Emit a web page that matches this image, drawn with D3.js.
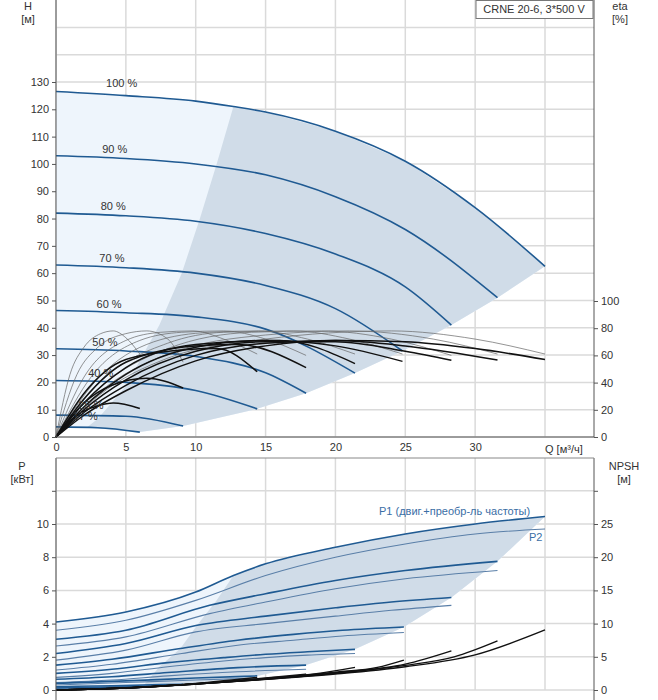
<!DOCTYPE html>
<html><head><meta charset="utf-8">
<script src="https://cdn.jsdelivr.net/npm/d3@7"></script>
<style>body{margin:0;background:#fff}text{font-family:"Liberation Sans",Arial,sans-serif;font-size:11px;fill:#333}</style>
</head><body><svg id="c" width="658" height="700"></svg>
<script>
// speed labels and H(Q) curves
var speeds = ["100 %", "90 %", "80 %", "70 %", "60 %", "50 %", "40 %", "25 %", "17 %"];
var headCurves = [
  [[0,126.5],[5,125],[10,123],[12.7,121],[15,119],[20,112],[25,101],[30,84],[35,62.5]],
  [[0,103],[5,102],[10,100],[15,96],[20,88],[25,76],[31.6,51]],
  [[0,82],[5,81],[10,79],[15,74.5],[20,67],[25,55],[28.3,41]],
  [[0,63],[5,62],[10,60],[15,55.5],[20,47],[24.8,31.5]],
  [[0,46.3],[5,45.5],[10,44],[15,39.5],[21.4,23.4]],
  [[0,32.3],[5,31.5],[10,29.5],[15,23.5],[17.9,16]],
  [[0,20.7],[5,20],[10,17],[14.4,10.3]],
  [[0,8],[5,7.6],[9.1,4]],
  [[0,3.7],[3,3.4],[6,1.8]]
];
var labelPos = [[4.7,127],[4.2,103],[4.1,82],[4,63],[3.8,46.3],[3.5,32.3],[3.2,21],[2.5,9],[2.1,5]];
// dark region left boundary (H)
var darkLeftH = [[2.2,3.5],[3,6.7],[5,18.7],[7.4,41],[9,60],[10.3,80],[11.5,100],[12.7,121]];
// efficiency, eta in %
var etaThick = [
  [[0,0],[2,16],[5,34],[10,56],[15,67],[20,71],[25,70],[30,65],[35,57]],
  [[0,0],[2,18],[5,38],[10,60],[15,69],[20,71],[25,67],[31.6,56.6]],
  [[0,0],[2,20],[5,42],[10,63],[15,70],[20,70],[25,63],[28.3,56.4]],
  [[0,0],[2,22],[5,46],[10,66],[15,71],[20,67],[24.8,55.6]],
  [[0,0],[2,25],[5,51],[10,68],[16,71],[21.4,54]],
  [[0,0],[2,28],[5,55],[10,67],[13,68],[17.9,51]],
  [[0,0],[2,32],[5,57],[9,64],[11.5,65],[14.4,48]],
  [[0,0],[2,25],[4,38],[6.5,43.2],[9.1,36]],
  [[0,0],[1.5,16],[3,23],[4.1,25],[6,21]]
];
var etaThin = [
  [[0,0],[3,30],[8,58],[15,72],[24,78],[30,72],[35,61]],
  [[0,0],[3,32],[8,61],[15,75],[21,78],[27,72],[31.6,61]],
  [[0,0],[3,35],[8,65],[14,77],[19,78],[24,72],[28.3,60]],
  [[0,0],[3,39],[8,69],[12,77],[17,78],[21,72],[24.8,61]],
  [[0,0],[3,43],[7,70],[11,77],[14.5,78],[18,72],[21.4,61]],
  [[0,0],[2.5,44],[6,71],[9,77],[12,78],[15,72],[17.9,60]],
  [[0,0],[2,44],[5,71],[7.5,77],[9.8,78],[12,72],[14.4,61]],
  [[0,0],[1.5,46],[3,66],[5,76],[6.5,78],[8,72],[9.1,55]],
  [[0,0],[1,46],[2,66],[3.2,76],[4.1,78],[5,73],[6,61]]
];
// power P1 / P2, kW
var p1Curves = [
  [[0,4.1],[5,4.7],[10,5.9],[12.7,6.9],[15,7.6],[20,8.6],[25,9.4],[30,10],[35,10.45]],
  [[0,3.06],[5,3.6],[11,5.1],[15,5.8],[20,6.6],[25,7.2],[31.6,7.75]],
  [[0,2.2],[5,2.8],[10.1,3.9],[15,4.45],[20,4.95],[24,5.3],[28.3,5.57]],
  [[0,1.5],[4,1.85],[8.9,2.5],[13,3],[17,3.35],[20.5,3.6],[24.9,3.8]],
  [[0,1.0],[4,1.25],[8,1.65],[12,1.95],[15,2.15],[18,2.3],[21.4,2.45]],
  [[0,0.65],[4,0.8],[8,1.05],[13,1.35],[17.9,1.5]],
  [[0,0.4],[5,0.55],[10,0.72],[14.4,0.85]],
  [[0,0.2],[4,0.26],[9.1,0.35]],
  [[0,0.12],[3,0.15],[6,0.2]]
];
var p2Curves = [
  [[0,3.6],[5,4.2],[10,5.4],[15,6.9],[20,8.0],[25,8.8],[30,9.4],[35,9.7]],
  [[0,2.65],[5,3.2],[11,4.6],[15,5.3],[20,6.1],[25,6.7],[31.6,7.2]],
  [[0,1.8],[5,2.4],[10,3.5],[15,4.0],[20,4.45],[24,4.8],[28.3,5.1]],
  [[0,1.2],[4,1.55],[9,2.2],[13,2.7],[17,3.0],[20.5,3.25],[24.9,3.46]],
  [[0,0.76],[4,1.0],[8,1.4],[12,1.75],[15,1.95],[18,2.1],[21.4,2.2]],
  [[0,0.45],[4,0.6],[8,0.85],[13,1.1],[17.9,1.25]],
  [[0,0.3],[5,0.45],[10,0.6],[14.4,0.72]],
  [[0,0.13],[4,0.2],[9.1,0.28]],
  [[0,0.06],[3,0.09],[6,0.13]]
];
var darkLeftP = [[6.2,0.2],[7.4,1.4],[8.9,2.5],[10.1,3.9],[11.5,5.4],[12.7,6.9]];
// NPSH, m
var npshCurves = [
  [[0,0],[5,0.3],[10,0.9],[15,1.6],[20,2.4],[25,3.5],[30,5.3],[35,9.05]],
  [[0,0],[5,0.3],[10,0.9],[15,1.6],[20,2.5],[25,3.7],[28.5,5],[31.6,7.4]],
  [[0,0],[5,0.3],[10,0.9],[15,1.65],[20,2.6],[25,3.9],[28.3,5.9]],
  [[0,0],[5,0.3],[10,0.9],[15,1.7],[20,2.7],[23,3.4],[24.9,4.5]],
  [[0,0],[5,0.3],[10,0.95],[15,1.75],[18.5,2.4],[21.4,3.4]],
  [[0,0],[5,0.3],[10,0.95],[15,1.8],[17.9,2.4]],
  [[0,0],[5,0.35],[10,1.0],[14.4,1.9]]
];
var qTicks = [0,5,10,15,20,25,30];
var hTicks = [0,10,20,30,40,50,60,70,80,90,100,110,120,130];
var etaTicks = [0,20,40,60,80,100];
var pTicks = [0,2,4,6,8,10];
var npshTicks = [0,5,10,15,20,25];

var svg = d3.select("#c");
var L = 56, R = 594;
var x = d3.scaleLinear().domain([0,35]).range([L,545]);
var yH = d3.scaleLinear().domain([0,130]).range([437,82]);
var yEta = d3.scaleLinear().domain([0,100]).range([437,301]);
var yP = d3.scaleLinear().domain([0,10]).range([690,524]);
var yN = d3.scaleLinear().domain([0,25]).range([690,524]);
var blue = "#1f5a92", grid = "#dadada", axisC = "#555";

function line(ys) { return d3.line().x(function (d) { return x(d[0]); }).y(function (d) { return ys(d[1]); }).curve(d3.curveMonotoneX); }
function poly(ys) { return d3.line().x(function (d) { return x(d[0]); }).y(function (d) { return ys(d[1]); }); }
function last(a) { return a[a.length - 1]; }
function styleAxis(a) {
  a.select(".domain").remove();
  a.selectAll("line").attr("stroke", axisC);
  a.selectAll("text").style("font-size","11px").attr("fill","#333").style("font-family","Liberation Sans, Arial");
}

// ---- top chart
var gTop = svg.append("g");
[0,10,20,30,40,50,60,70,80,90,100,110,120,130,140,150].forEach(function (v) {
  gTop.append("line").attr("x1",L).attr("x2",R).attr("y1",yH(v)).attr("y2",yH(v)).attr("stroke",grid).attr("stroke-width",1.5);
});
qTicks.concat([35]).forEach(function (v) {
  gTop.append("line").attr("x1",x(v)).attr("x2",x(v)).attr("y1",0).attr("y2",437).attr("stroke",grid).attr("stroke-width",1.5);
});
var ends = headCurves.map(last);
var lightPts = headCurves[0].concat(ends.slice(1)).concat([[3,3.4],[0,3.7]]);
gTop.append("path").attr("d", poly(yH)(lightPts)).attr("fill","#eef5fc");
var darkPts = headCurves[0].filter(function (d) { return d[0] >= 12.7; }).concat(ends.slice(1)).concat(darkLeftH.slice(0,-1));
gTop.append("path").attr("d", poly(yH)(darkPts)).attr("fill","#d0dce8");
headCurves.forEach(function (c) {
  gTop.append("path").attr("d", line(yH)(c)).attr("fill","none").attr("stroke",blue).attr("stroke-width",1.6);
});
etaThin.forEach(function (c) {
  gTop.append("path").attr("d", line(yEta)(c)).attr("fill","none").attr("stroke","#666").attr("stroke-width",0.7);
});
etaThick.forEach(function (c) {
  gTop.append("path").attr("d", line(yEta)(c)).attr("fill","none").attr("stroke","#111").attr("stroke-width",1.5);
});
speeds.forEach(function (s, i) {
  gTop.append("text").attr("x", x(labelPos[i][0])).attr("y", yH(labelPos[i][1]) - 3).attr("text-anchor","middle").text(s);
});
gTop.append("line").attr("x1",L).attr("x2",L).attr("y1",0).attr("y2",437).attr("stroke",axisC);
gTop.append("line").attr("x1",R).attr("x2",R).attr("y1",0).attr("y2",437).attr("stroke",axisC);
gTop.append("line").attr("x1",L).attr("x2",R).attr("y1",437).attr("y2",437).attr("stroke",axisC);
styleAxis(gTop.append("g").attr("transform","translate("+L+",0)").call(d3.axisLeft(yH).tickValues(hTicks).tickSize(4).tickSizeOuter(0)));
styleAxis(gTop.append("g").attr("transform","translate("+R+",0)").call(d3.axisRight(yEta).tickValues(etaTicks).tickSize(4).tickSizeOuter(0)));
styleAxis(gTop.append("g").attr("transform","translate(0,437)").call(d3.axisBottom(x).tickValues(qTicks).tickSize(0).tickPadding(6).tickSizeOuter(0)));
gTop.append("text").attr("x",x(35)).attr("y",453).text("Q [м³/ч]");
gTop.append("text").attr("x",28).attr("y",10).attr("text-anchor","middle").text("H");
gTop.append("text").attr("x",28).attr("y",23).attr("text-anchor","middle").text("[м]");
gTop.append("text").attr("x",620).attr("y",10).attr("text-anchor","middle").text("eta");
gTop.append("text").attr("x",620).attr("y",23).attr("text-anchor","middle").text("[%]");
gTop.append("rect").attr("x",476).attr("y",0.5).attr("width",117).attr("height",18).attr("fill","#fff").attr("stroke","#777");
gTop.append("text").attr("x",534).attr("y",13).attr("text-anchor","middle").text("CRNE 20-6, 3*500 V");

// ---- bottom chart
var gBot = svg.append("g");
var bTop = 458;
[0,2,4,6,8,10,12].forEach(function (v) {
  gBot.append("line").attr("x1",L).attr("x2",R).attr("y1",yP(v)).attr("y2",yP(v)).attr("stroke",grid).attr("stroke-width",1.5);
});
qTicks.concat([35]).forEach(function (v) {
  gBot.append("line").attr("x1",x(v)).attr("x2",x(v)).attr("y1",bTop).attr("y2",690).attr("stroke",grid).attr("stroke-width",1.5);
});
var pEnds = p1Curves.map(last);
var lightP = p1Curves[0].concat(pEnds.slice(1)).concat([[0,0.12]]);
gBot.append("path").attr("d", poly(yP)(lightP)).attr("fill","#eef5fc");
var darkP = p1Curves[0].filter(function (d) { return d[0] >= 12.7; }).concat(pEnds.slice(1)).concat(darkLeftP.slice(0,-1));
gBot.append("path").attr("d", poly(yP)(darkP)).attr("fill","#d0dce8");
p2Curves.forEach(function (c) {
  gBot.append("path").attr("d", line(yP)(c)).attr("fill","none").attr("stroke","#5a7fa8").attr("stroke-width",1.1);
});
p1Curves.forEach(function (c) {
  gBot.append("path").attr("d", line(yP)(c)).attr("fill","none").attr("stroke",blue).attr("stroke-width",1.6);
});
npshCurves.forEach(function (c) {
  gBot.append("path").attr("d", line(yN)(c)).attr("fill","none").attr("stroke","#111").attr("stroke-width",1.4);
});
gBot.append("text").attr("x",379).attr("y",515).style("fill","#3a6ea5").text("P1 (двиг.+преобр-ль частоты)");
gBot.append("text").attr("x",529).attr("y",541).style("fill","#3a6ea5").text("P2");
gBot.append("line").attr("x1",L).attr("x2",L).attr("y1",bTop).attr("y2",700).attr("stroke",axisC);
gBot.append("line").attr("x1",R).attr("x2",R).attr("y1",bTop).attr("y2",700).attr("stroke",axisC);
gBot.append("line").attr("x1",L).attr("x2",R).attr("y1",bTop).attr("y2",bTop).attr("stroke","#888");
styleAxis(gBot.append("g").attr("transform","translate("+L+",0)").call(d3.axisLeft(yP).tickValues(pTicks.concat([12])).tickFormat(function (d) { return d === 12 ? "" : d; }).tickSize(4).tickSizeOuter(0)));
styleAxis(gBot.append("g").attr("transform","translate("+R+",0)").call(d3.axisRight(yN).tickValues(npshTicks.concat([30])).tickFormat(function (d) { return d === 30 ? "" : d; }).tickSize(4).tickSizeOuter(0)));
gBot.append("text").attr("x",22).attr("y",470).attr("text-anchor","middle").text("P");
gBot.append("text").attr("x",22).attr("y",483).attr("text-anchor","middle").text("[кВт]");
gBot.append("text").attr("x",624).attr("y",470).attr("text-anchor","middle").text("NPSH");
gBot.append("text").attr("x",624).attr("y",483).attr("text-anchor","middle").text("[м]");
</script></body></html>
